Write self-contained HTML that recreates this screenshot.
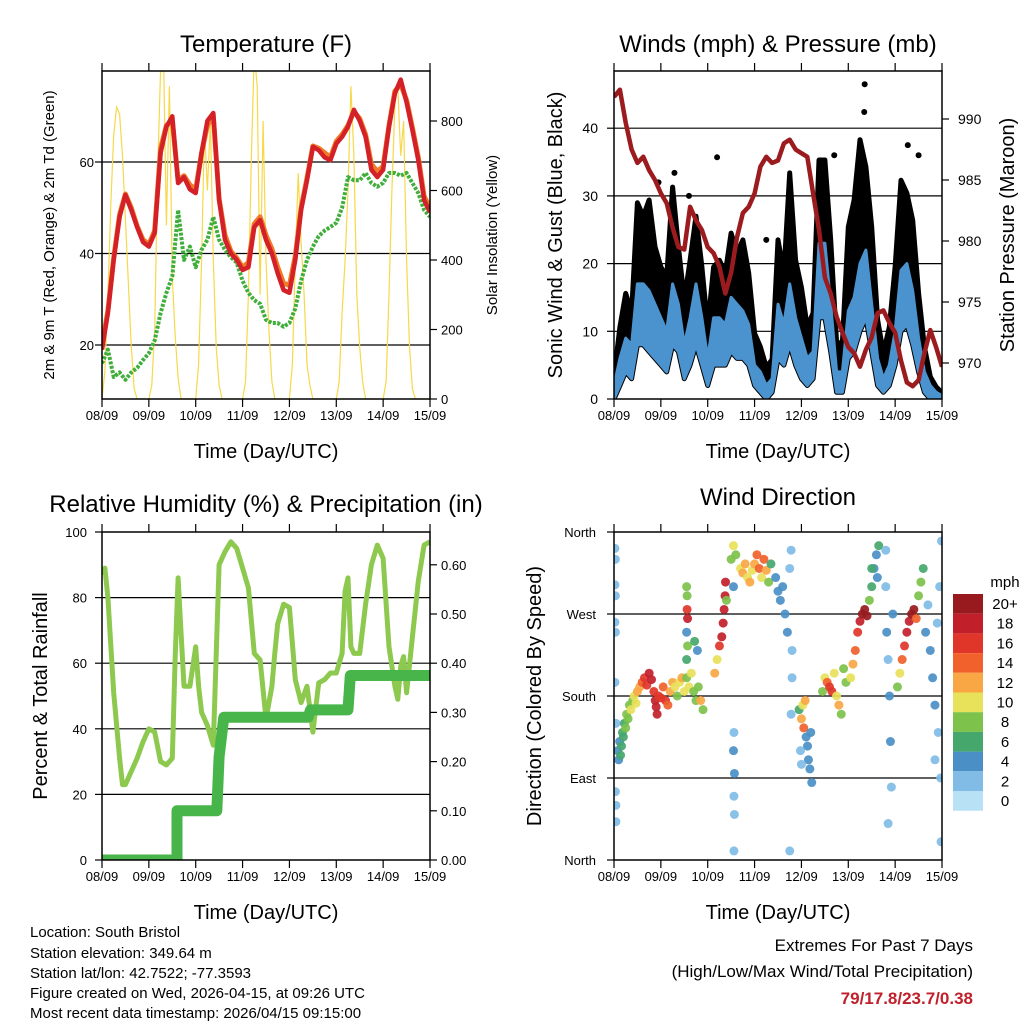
<!DOCTYPE html>
<html><head><meta charset="utf-8"><style>
html,body{margin:0;padding:0;background:#fff;}
svg{display:block;font-family:"Liberation Sans",sans-serif;}
</style></head><body>
<svg id="s" width="1024" height="1024" viewBox="0 0 1024 1024" xmlns="http://www.w3.org/2000/svg">
<defs>
<clipPath id="c1"><rect x="102" y="71" width="328" height="328"/></clipPath>
<clipPath id="c2"><rect x="614" y="71" width="328" height="328"/></clipPath>
<clipPath id="c3"><rect x="102" y="532" width="328" height="328"/></clipPath>
<clipPath id="c4"><rect x="614" y="532" width="328" height="328"/></clipPath>
</defs>
<text x="266" y="52" font-size="24" text-anchor="middle">Temperature (F)</text>
<text x="778" y="52" font-size="24" text-anchor="middle">Winds (mph) &amp; Pressure (mb)</text>
<text x="266" y="512" font-size="24" text-anchor="middle">Relative Humidity (%) &amp; Precipitation (in)</text>
<text x="778" y="505" font-size="24" text-anchor="middle">Wind Direction</text>
<text x="266" y="458" font-size="20" text-anchor="middle">Time (Day/UTC)</text>
<text x="778" y="458" font-size="20" text-anchor="middle">Time (Day/UTC)</text>
<text x="266" y="919" font-size="20" text-anchor="middle">Time (Day/UTC)</text>
<text x="778" y="919" font-size="20" text-anchor="middle">Time (Day/UTC)</text>
<text transform="translate(54,235) rotate(-90)" font-size="15" text-anchor="middle">2m &amp; 9m T (Red, Orange) &amp; 2m Td (Green)</text>
<text transform="translate(497,235) rotate(-90)" font-size="15" text-anchor="middle">Solar Insolation (Yellow)</text>
<text transform="translate(562,235) rotate(-90)" font-size="20" text-anchor="middle">Sonic Wind &amp; Gust (Blue, Black)</text>
<text transform="translate(1014,235) rotate(-90)" font-size="20" text-anchor="middle">Station Pressure (Maroon)</text>
<text transform="translate(47,696) rotate(-90)" font-size="20" text-anchor="middle">Percent &amp; Total Rainfall</text>
<text transform="translate(541,696) rotate(-90)" font-size="20" text-anchor="middle">Direction (Colored By Speed)</text>
<text x="1005" y="587" font-size="15" text-anchor="middle">mph</text>
<g font-size="15">
<text x="30" y="937">Location: South Bristol</text>
<text x="30" y="958">Station elevation: 349.64 m</text>
<text x="30" y="978">Station lat/lon: 42.7522; -77.3593</text>
<text x="30" y="998">Figure created on Wed, 2026-04-15, at 09:26 UTC</text>
<text x="30" y="1018">Most recent data timestamp: 2026/04/15 09:15:00</text>
</g>
<text x="973" y="951" font-size="17" text-anchor="end">Extremes For Past 7 Days</text>
<text x="973" y="977" font-size="17" text-anchor="end">(High/Low/Max Wind/Total Precipitation)</text>
<text x="973" y="1004" font-size="17" font-weight="bold" fill="#c0202a" text-anchor="end">79/17.8/23.7/0.38</text>
</svg>
<script>
// ---- data ----
const dayLabels=["08/09","09/09","10/09","11/09","12/09","13/09","14/09","15/09"];
const tempTicks=[20,40,60];
const solarTicks=[0,200,400,600,800];
const windTicks=[0,10,20,30,40];
const presTicks=[970,975,980,985,990];
const rhTicks=[0,20,40,60,80,100];
const rainTicks=[0,0.1,0.2,0.3,0.4,0.5,0.6];
const dirTicks=[0,90,180,270,360];
const dirLabels=["North","East","South","West","North"];
const tempRed=[19,27,38.6,48,52.8,49.5,45.8,42.5, 41.5,44.5,62,67.7,70,55.4,56.7,54, 53.2,62,69,70.7,51.7,43,40,38.6, 36.4,37,45.8,47.3,43,40,35.7,32, 31.4,38.6,49.5,56,63.3,62.6,61,60.4, 64,65.5,67.7,71.4,69,65.5,58.3,56.7, 58.3,67.7,75,78,73,67,60.4,51.7, 49];
const tempOrange=[20,27.5,39,48.5,53,50,46,43, 42,45,63,68,69,56,57,55, 54,62,68,70,52,44,40.5,39, 37,38,46.5,48,44,41,37,33.5, 33,39.5,50,56.5,63.5,63,62,61, 64.5,66,68,71,69.5,66,59.5,58, 59,68,75.5,77,73.5,67.5,61,52.5, 50];
const dewGreen=[16,19,13,14,12.4,14,15,16.7, 18.2,21,27,31.4,35,49.5,38.6,41.5, 37,40.8,43,48,43,40.8,39.2,38, 34,31.4,29.8,29,25.5,24.8,24.8,24, 24.8,28,34,38.6,41.5,43.8,45,45.8, 46.7,50,56.7,56,56,57.6,55.4,54.6, 55.4,57.6,57.6,57,57.6,55.4,53.2,49.5, 48];
const solar=[0,80,300,560,760,840,820,700,520,330,150,30,0,0,0,0,
 0,40,200,650,950,1000,500,900,350,180,60,0,0,0,0,0,
 0,100,400,780,600,800,400,150,40,0,0,0,0,0,0,0,
 0,50,300,700,1000,900,300,800,400,200,50,0,0,0,0,0,
 0,100,400,650,450,300,100,40,0,0,0,0,0,0,0,0,
 0,50,250,400,600,900,700,300,150,50,0,0,0,0,0,0,
 0,50,300,600,850,900,700,800,400,150,30,0,0,0,0,0, 0];
const gustHi=[3.3,10.6,15.6,12.7,29,27,29.4,22.5, 19.5,18,31.3,22.5,14.6,20.5,27,19.5, 10.6,19.5,20.5,18.6,24.5,21.6,23.5,18.6, 9.7,7.7,4.7,5.8,23.5,18.6,33.4,20.5, 16.5,10.6,12.7,35.3,35.3,23.5,8.3,8.3, 25.4,29.4,38.3,34.3,25.4,11.7,6.8,10.6, 19.5,32.3,30.4,26.4,15.6,7.7,3.3,1.8, 0.9];
const speedHi=[2,6,9,8,17,17,16,14, 12,10,17,14,8,12,17,12, 6,12,12,11,15,14,13,11, 5,4,2,3,14,11,17,12, 9,6,7,23,23,14,4,4, 13,15,20,22,14,6,3,5, 10,19,20,16,9,4,2,1, 0.5];
const speedLo=[0,2,4,3,8,8,7,6, 5,4,8,7,3,5,8,5, 2,5,5,5,7,6,6,5, 2,1,0,1,6,5,8,5, 3,2,3,12,12,7,1,1, 6,7,10,12,7,2,1,2, 5,10,11,8,4,1,0,0, 0];
const gustOutT=[5.35,5.34,1.29,2.2,6.27,6.5,4.7,3.25,1.6,0.95];
const gustOutV=[46.5,42.4,33.4,35.7,37.5,36,36,23.5,30,32];
const pressure=[991.8,992.4,989.7,987.5,986.4,986.9,985.8,985, 983.9,983.1,981.1,979.5,979.3,982.8,981.7,980.9, 979.5,979,977.9,975.7,977.4,980.3,982.3,982.8, 983.9,986.1,986.9,986.4,986.6,988,988.3,987.5, 987.2,986.9,983.9,980.9,977,975.7,973.8,972.5, 971.3,970.8,969.7,971.1,972.1,974.1,974.3,973.3, 972.5,970.2,968.4,968.1,968.6,970.8,972.7,971.3, 969.7];
const rhT=[0,0.0625,0.125,0.25,0.375,0.4375,0.5,0.625,0.75,0.875,1,1.125,1.25,1.375,1.5,1.5625,1.625,1.6875,1.75,1.875,2,2.0625,2.125,2.25,2.375,2.5,2.625,2.75,2.875,3,3.125,3.25,3.375,3.5,3.625,3.6875,3.75,3.875,4,4.0625,4.125,4.25,4.375,4.5,4.625,4.75,4.875,5,5.125,5.1875,5.25,5.3125,5.375,5.5,5.625,5.75,5.875,6,6.125,6.25,6.3125,6.375,6.4375,6.5,6.625,6.75,6.875,7];
const rhV=[87,89,80,51,31,23,23,27,31,36,40,39,30,29,31,62,86,69,53,53,65,53,45,41,35,90,94,97,95,89,83,63,61,43,53,63,72,78,77,66,55,48,53,39,54,55,57,57,63,82,86,65,63,63,78,90,96,92,65,53,49,59,62,51,68,85,96,97];
const rainT=[0,1.6,1.6,2.45,2.5,2.6,4.4,4.45,5.25,5.3,7.0];
const rainV=[0,0,0.1,0.1,0.21,0.29,0.29,0.305,0.305,0.375,0.375];
const dirT=[0.02,0.03,0.02,0.03,0.02,0.03,0.02,0.04,0.03,0.04,0.04,
0.08,0.1,0.12,0.14,0.16,0.18,0.2,0.22,0.25,0.27,0.3,0.33,0.36,0.4,0.43,0.47,0.5,
0.55,0.6,0.65,0.7,0.75,0.8,0.85,0.88,0.9,0.92,0.95,1.0,1.05,1.1,1.15,1.2,1.25,1.3,1.35,1.4,1.45,1.5,1.55,1.6,1.65,1.7,1.75,1.8,1.85,1.9,
1.55,1.56,1.56,1.57,1.55,1.57,1.55,1.72,1.78,
2.15,2.2,2.25,2.3,2.33,2.35,2.37,2.38,2.4,
2.55,2.56,2.55,2.57,2.56,2.57,2.56,
2.5,2.55,2.6,2.7,2.75,2.8,2.85,2.9,2.95,3.0,3.05,3.1,3.15,3.2,3.25,3.3,3.35,
3.45,3.5,3.55,3.6,3.65,3.7,3.75,3.78,3.8,3.8,3.78,3.75,
3.95,4.0,4.03,4.05,4.08,4.1,4.13,4.15,4.18,4.2,4.22,3.98,4.0,
4.45,4.5,4.55,4.6,4.65,4.7,4.75,4.8,4.85,4.9,4.95,
5.05,5.1,5.15,5.2,5.25,5.3,5.35,5.4,5.45,5.5,5.55,5.6,5.65,5.5,5.62,
5.8,5.82,5.85,5.88,5.9,5.92,5.85,5.8,5.95,
6.05,6.1,6.15,6.2,6.25,6.3,6.35,6.4,6.45,6.5,6.55,6.6,
6.65,6.7,6.75,6.8,6.85,6.9,6.92,6.95,6.97,6.98,6.99,6.85];
const dirV=[342,330,302,290,261,250,195,150,75,60,42,
120,110,130,115,125,140,135,150,145,160,155,170,165,175,180,172,185,
190,195,200,192,205,198,185,175,168,160,180,178,190,175,170,185,195,190,180,195,200,185,200,190,205,185,175,190,175,165,
300,290,275,265,250,235,220,240,230,
205,220,235,245,260,275,290,305,285,
300,140,120,95,70,50,10,
330,345,335,320,315,325,310,305,318,325,335,320,310,330,318,305,325,
310,295,285,300,270,250,320,340,230,200,160,10,
165,155,170,145,175,135,125,110,100,140,85,120,105,
185,200,195,190,185,205,180,170,160,210,195,
200,215,230,250,262,270,275,268,285,300,320,335,345,320,310,
300,250,220,180,130,80,40,340,270,
190,205,220,235,250,262,270,275,265,290,305,320,
250,280,230,200,170,260,140,300,90,20,350,110];
const dirS=[1,1,2,1,2,1,1,2,1,1,1,
4,4,4,5,6,5,6,6,7,8,7,8,9,8,10,9,11,
12,14,15,16,18,17,16,17,18,18,15,16,14,15,14,12,12,9,8,10,11,10,8,9,10,8,7,8,12,7,
8,7,16,18,4,7,6,5,4,
12,10,15,17,18,18,18,17,8,
4,2,4,4,2,2,2,
8,9,7,10,12,11,10,12,9,12,13,14,10,14,12,8,6,
4,4,4,4,3,3,2,2,2,1,2,1,
6,12,10,13,11,4,4,4,4,4,4,2,2,
8,9,14,16,16,10,10,11,8,7,8,
10,12,14,16,18,20,20,19,8,6,4,4,6,5,4,
2,3,2,4,4,2,2,2,3,
8,10,14,16,18,18,20,20,14,8,7,6,
3,2,4,4,3,2,2,1,2,1,1,2];
const cbLabels=["20+","18","16","14","12","10","8","6","4","2","0"];
const cbColors=["#981a1e","#c1202a","#e0362a","#f1612b","#f8a744","#e8e15a","#7dc24b","#46a76d","#4a8fc6","#80bce6","#b9e1f5"];

// ---- helpers ----
const S=document.getElementById('s');
const NS='http://www.w3.org/2000/svg';
function mk(tag,attrs,parent){const e=document.createElementNS(NS,tag);for(const k in attrs)e.setAttribute(k,attrs[k]);(parent||S).appendChild(e);return e;}
const DX=46.857;
function xs(x0){return d=>x0+d*DX;}
const P1={x0:102,y0:71}, P2={x0:614,y0:71}, P3={x0:102,y0:532}, P4={x0:614,y0:532};
const yTemp=v=>345-(v-20)*4.575, ySolar=v=>399-v*0.3475;
const yWind=v=>399-v*6.77, yPres=v=>119+(990-v)*12.2;
const yRH=v=>860-v*3.28, yRain=v=>860-v*492;
const yDir=v=>860-v*0.9111;
function pts(T,V,fx,fy){return V.map((v,i)=>fx(T[i]).toFixed(1)+','+fy(v).toFixed(1)).join(' ');}
function uniT(n,step){const a=[];for(let i=0;i<n;i++)a.push(i*step);return a;}

function grid(P,vals,fy,name){
  vals.forEach(v=>{const y=fy(v);const l=mk('line',{x1:P.x0,x2:P.x0+328,y1:y,y2:y,stroke:'#000','stroke-width':1.2});
    
    });
}
function xAxis(P,labelY,name){
  const fx=xs(P.x0);
  dayLabels.forEach((lab,i)=>{const x=fx(i);
    mk('line',{x1:x,x2:x,y1:P.y0,y2:P.y0-8,stroke:'#000','stroke-width':1.2});
    mk('line',{x1:x,x2:x,y1:P.y0+328,y2:P.y0+336,stroke:'#000','stroke-width':1.2});
    const t=mk('text',{x:x,y:labelY,'font-size':13,'text-anchor':'middle'});t.textContent=lab;
    
    });
}
function yAxis(P,vals,fy,labs,side,lx,name,fs){
  vals.forEach((v,i)=>{const y=fy(v);
    const x=side==='l'?P.x0:P.x0+328;const dx=side==='l'?-7:7;
    mk('line',{x1:x,x2:x+dx,y1:y,y2:y,stroke:'#000','stroke-width':1.2});
    const t=mk('text',{x:lx,y:y+5,'font-size':fs||13,'text-anchor':side==='l'?'end':'start'});t.textContent=labs[i];
    
    });
}
function border(P,name){const r=mk('rect',{x:P.x0,y:P.y0,width:328,height:328,fill:'none',stroke:'#000','stroke-width':1.5});
  
  }

// ---- Panel 1: temperature ----
{
 grid(P1,tempTicks,yTemp,'temp');
 const g=mk('g',{'clip-path':'url(#c1)'});
 const fx=xs(P1.x0);
 const ts=uniT(solar.length,0.0625), t8=uniT(tempRed.length,0.125);
 const sl=mk('polyline',{points:pts(ts,solar,fx,ySolar),fill:'none',stroke:'#f7d84a','stroke-width':1.2},g);
 
 
 const dl=mk('polyline',{points:pts(t8,dewGreen,fx,yTemp),fill:'none',stroke:'#3fae3a','stroke-width':4,'stroke-dasharray':'3 1.5','stroke-linejoin':'round'},g);
 
 
 const ol=mk('polyline',{points:pts(t8,tempOrange,fx,yTemp),fill:'none',stroke:'#f07a28','stroke-width':5,'stroke-linejoin':'round'},g);
 
 
 const rl=mk('polyline',{points:pts(t8,tempRed,fx,yTemp),fill:'none',stroke:'#d42027','stroke-width':4.5,'stroke-linejoin':'round'},g);
 
 
 border(P1,'temp');
 xAxis(P1,420,'temp');
 yAxis(P1,tempTicks,yTemp,tempTicks.map(String),'l',94,'temp-left');
 yAxis(P1,solarTicks,ySolar,solarTicks.map(String),'r',441,'solar-right');
}
// ---- Panel 2: winds ----
{
 grid(P2,windTicks.slice(1),yWind,'wind');
 const g=mk('g',{'clip-path':'url(#c2)'});
 const fx=xs(P2.x0);
 const t8=uniT(gustHi.length,0.125);
 const poly=(hi,lo)=>pts(t8,hi,fx,yWind)+' '+pts(t8.slice().reverse(),lo.slice().reverse(),fx,yWind);
 const gb=mk('polygon',{points:poly(gustHi,speedLo),fill:'#000',stroke:'#000','stroke-width':5,'stroke-linejoin':'round'},g);
 
 
 gustOutT.forEach((t,i)=>{const c=mk('circle',{cx:fx(t),cy:yWind(gustOutV[i]),r:3,fill:'#000'},g);
   
   });
 const sb=mk('polygon',{points:poly(speedHi,speedLo),fill:'#4b93cf',stroke:'#4b93cf','stroke-width':3,'stroke-linejoin':'round'},g);
 
 
 const pl=mk('polyline',{points:pts(t8,pressure,fx,yPres),fill:'none',stroke:'#9b1b1e','stroke-width':4.5,'stroke-linejoin':'round'},g);
 
 
 border(P2,'wind');
 xAxis(P2,420,'wind');
 yAxis(P2,windTicks,yWind,windTicks.map(String),'l',598,'wind-left',14);
 yAxis(P2,presTicks,yPres,presTicks.map(String),'r',958,'pressure-right',14);
}
// ---- Panel 3: RH & rain ----
{
 grid(P3,[20,40,60,80],yRH,'rh');
 const g=mk('g',{'clip-path':'url(#c3)'});
 const fx=xs(P3.x0);
 const rl=mk('polyline',{points:pts(rhT,rhV,fx,yRH),fill:'none',stroke:'#8dc94e','stroke-width':5,'stroke-linejoin':'round'},g);
 
 
 const pr=mk('polyline',{points:pts(rainT,rainV,fx,yRain),fill:'none',stroke:'#47b549','stroke-width':11,'stroke-linejoin':'round','stroke-linecap':'round'},g);
 
 
 border(P3,'rh');
 xAxis(P3,881,'rh');
 yAxis(P3,rhTicks,yRH,rhTicks.map(String),'l',87,'rh-left');
 yAxis(P3,rainTicks,yRain,rainTicks.map(v=>v.toFixed(2)),'r',441,'rain-right');
}
// ---- Panel 4: wind direction ----
{
 grid(P4,[90,180,270],yDir,'dir');
 const g=mk('g',{'clip-path':'url(#c4)'});
 const fx=xs(P4.x0);
 const col=s=>cbColors[10-Math.min(10,Math.max(0,Math.round(s/2)))];
 dirT.forEach((t,i)=>{const c=mk('circle',{cx:fx(t),cy:yDir(dirV[i]),r:4.5,fill:col(dirS[i]),'fill-opacity':0.92},g);
   
   });
 border(P4,'dir');
 xAxis(P4,881,'dir');
 yAxis(P4,dirTicks,yDir,dirLabels,'l',596,'dir-left');
 cbLabels.forEach((lab,i)=>{
   const r=mk('rect',{x:953,y:594+i*19.7,width:30,height:19.7,fill:cbColors[i]});
   
   
   const t=mk('text',{x:1005,y:609+i*19.7,'font-size':15,'text-anchor':'middle'});t.textContent=lab;
   
   
 });
}
</script>
</body></html>
